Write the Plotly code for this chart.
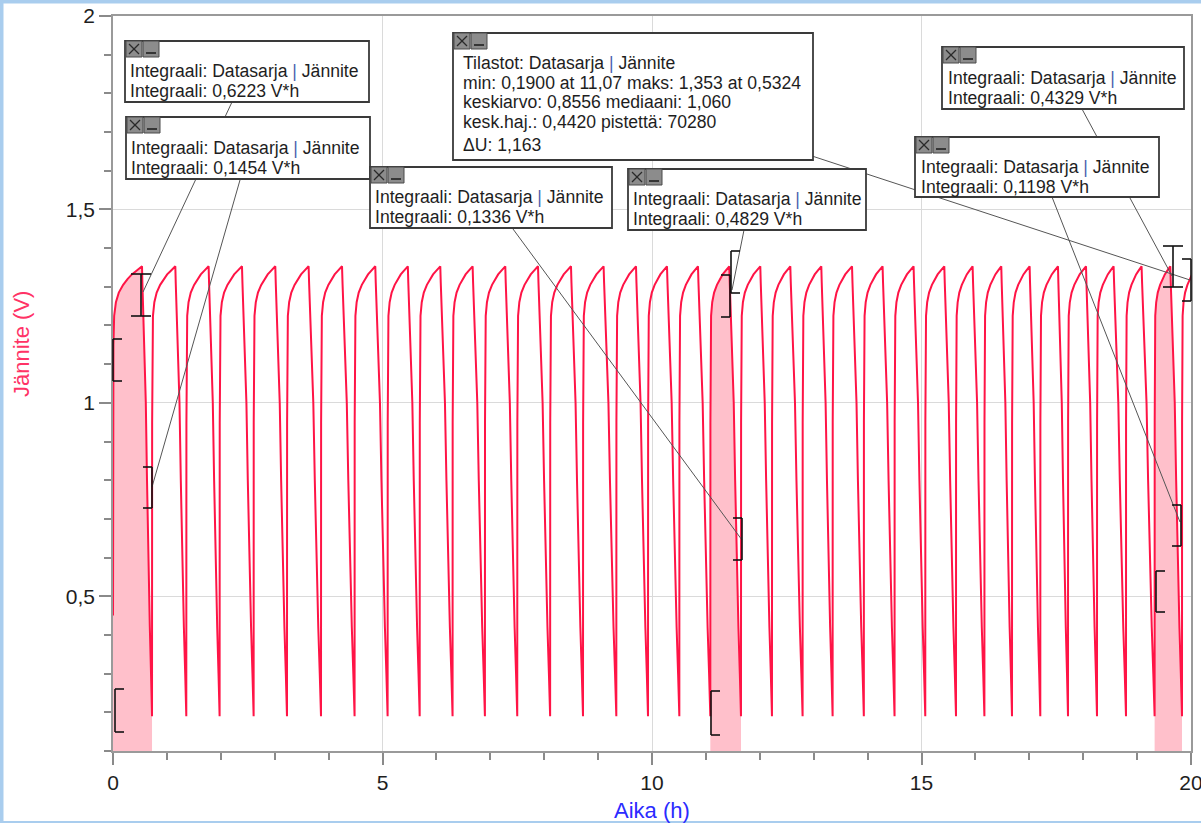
import plotly.graph_objects as go

# ---------------- data ----------------
peak_t = [0.538, 1.156, 1.774, 2.393, 3.011, 3.629, 4.249, 4.866, 5.47, 6.072,
          6.672, 7.278, 7.885, 8.497, 9.102, 9.703, 10.278, 10.853, 11.434, 12.009,
          12.566, 13.141, 13.711, 14.278, 14.853, 15.423, 15.948, 16.480, 17.006, 17.532,
          18.052, 18.564, 19.083, 19.616, 20.12]
trough_t = [0.724, 1.360, 1.978, 2.609, 3.228, 3.859, 4.482, 5.095, 5.69, 6.30,
            6.90, 7.50, 8.11, 8.72, 9.338, 9.926, 10.507, 11.082, 11.651, 12.226,
            12.794, 13.351, 13.93, 14.50, 15.07, 15.64, 16.167, 16.679, 17.204, 17.718,
            18.256, 18.794, 19.325, 19.833]
start_v = 0.45
# shape of one charging part (fraction of rise time -> voltage)
rise_frac = [0.0, 0.005, 0.015, 0.04, 0.10, 0.20, 0.35, 0.50, 0.65, 0.80, 0.92, 1.0]
rise_v = [0.19, 0.95, 1.15, 1.225, 1.26, 1.285, 1.305, 1.32, 1.332, 1.341, 1.348, 1.353]
# shape of one discharging part (fraction of fall time -> voltage)
fall_frac = [0.0, 0.04, 0.2, 0.38, 0.5, 0.62, 0.78, 0.9, 1.0]
fall_v = [1.353, 1.31, 1.17, 1.0, 0.80, 0.60, 0.42, 0.30, 0.19]

region_bounds = [(0.0, 0.724), (11.082, 11.651), (19.325, 19.833)]

x_ticks = [0, 5, 10, 15, 20]
x_ticktext = ["0", "5", "10", "15", "20"]
y_ticks = [0.5, 1.0, 1.5, 2.0]
y_ticktext = ["0,5", "1", "1,5", "2"]

box_texts = [
    ["Integraali: Datasarja | Jännite", "Integraali: 0,6223 V*h"],
    ["Integraali: Datasarja | Jännite", "Integraali: 0,1454 V*h"],
    ["Integraali: Datasarja | Jännite", "Integraali: 0,1336 V*h"],
    ["Tilastot: Datasarja | Jännite", "min: 0,1900 at 11,07 maks: 1,353 at 0,5324",
     "keskiarvo: 0,8556 mediaani: 1,060", "kesk.haj.: 0,4420 pistettä: 70280", "ΔU: 1,163"],
    ["Integraali: Datasarja | Jännite", "Integraali: 0,4829 V*h"],
    ["Integraali: Datasarja | Jännite", "Integraali: 0,4329 V*h"],
    ["Integraali: Datasarja | Jännite", "Integraali: 0,1198 V*h"],
]

# ---------------- build the curve ----------------
t, v = [], []
prev = 0.0
for i, pk in enumerate(peak_t):
    dur = pk - prev
    for j, (f, val) in enumerate(zip(rise_frac, rise_v)):
        if i > 0 and j == 0:
            continue
        t.append(prev + f * dur)
        v.append(start_v if (i == 0 and j == 0) else val)
    if i < len(trough_t):
        tr = trough_t[i]
        d = tr - pk
        for f, val in zip(fall_frac[1:], fall_v[1:]):
            t.append(pk + f * d)
            v.append(val)
        prev = tr

LINE = "rgb(255,20,70)"
FILL = "rgb(255,192,203)"

fig = go.Figure()
for a, b in region_bounds:
    xs = [tt for tt in t if a - 1e-9 <= tt <= b + 1e-9]
    ys = [vv for tt, vv in zip(t, v) if a - 1e-9 <= tt <= b + 1e-9]
    fig.add_trace(go.Scatter(x=xs, y=ys, mode="lines", fill="tozeroy",
                             fillcolor=FILL, line=dict(width=0, color=FILL),
                             hoverinfo="skip", showlegend=False))
fig.add_trace(go.Scatter(x=t, y=v, mode="lines", line=dict(color=LINE, width=2),
                         showlegend=False))

# ---------------- layout geometry (pixels) ----------------
W, H = 1201, 823
ML, MR, MT, MB = 113, 10, 16, 72
PW, PH = W - ML - MR, H - MT - MB


def px(xp):
    return (xp - ML) / PW


def py(yp):
    return (H - MB - yp) / PH


shapes = []
annotations = []

DARK = "#3a3a3a"
GRAYLINE = "#555555"


def seg(x0, y0, x1, y1, color="#111111", width=1.6):
    shapes.append(dict(type="line", xref="paper", yref="paper",
                       x0=px(x0), y0=py(y0), x1=px(x1), y1=py(y1),
                       line=dict(color=color, width=width), layer="above"))


# connector lines
connectors = [
    ((232, 102), (143, 292)),
    ((240, 180), (152, 487)),
    ((513, 229), (742, 540)),
    ((744, 230), (732, 290)),
    ((812, 156), (1190, 280)),
    ((1082, 109), (1172, 276)),
    ((1052, 197), (1180, 522)),
]
for (a, b) in connectors:
    seg(a[0], a[1], b[0], b[1], color=GRAYLINE, width=1)

# brackets
brackets = [
    ("[", 113, 339, 381), ("[", 115, 689, 732), ("I", 141, 274, 316), ("]", 152, 467, 508),
    ("[", 731, 251, 293), ("]", 730, 275, 317), ("[", 711, 691, 735), ("]", 742, 518, 560),
    ("I", 1173, 246, 287), ("]", 1191, 259, 301), ("]", 1181, 505, 546), ("[", 1156, 571, 612),
]
for kind, xb, y0, y1 in brackets:
    seg(xb, y0, xb, y1)
    L = 9
    if kind == "[":
        seg(xb, y0, xb + L, y0)
        seg(xb, y1, xb + L, y1)
    elif kind == "]":
        seg(xb - L, y0, xb, y0)
        seg(xb - L, y1, xb, y1)
    else:
        seg(xb - 10, y0, xb + 10, y0)
        seg(xb - 10, y1, xb + 10, y1)

# boxes: (left, top, right, bottom, text_x, first_line_y, line_gaps)
boxes = [
    (125, 41, 369, 102, 128, 71, [20]),
    (126, 117, 370, 179, 129, 148, [20]),
    (370, 167, 612, 228, 373, 197, [20]),
    (453, 33, 813, 160, 461, 63, [20, 19, 20, 23]),
    (628, 169, 866, 230, 631, 199, [20]),
    (942, 47, 1184, 109, 946, 78, [20]),
    (915, 137, 1159, 197, 919, 167, [20]),
]
FONT = "Liberation Sans, Arial, sans-serif"
for bi, (l, tp, r, btm, tx, ty, gaps) in enumerate(boxes):
    shapes.append(dict(type="rect", xref="paper", yref="paper",
                       x0=px(l), y0=py(btm), x1=px(r), y1=py(tp),
                       fillcolor="white", line=dict(color=DARK, width=1.8), layer="above"))
    # close icon
    shapes.append(dict(type="rect", xref="paper", yref="paper",
                       x0=px(l + 1), y0=py(tp + 16), x1=px(l + 17), y1=py(tp),
                       fillcolor="#8c8c8c", line=dict(color="#4a4a4a", width=1), layer="above"))
    seg(l + 4, tp + 3, l + 14, tp + 13, color="#2a2a2a", width=1.3)
    seg(l + 4, tp + 13, l + 14, tp + 3, color="#2a2a2a", width=1.3)
    # minimise icon
    shapes.append(dict(type="rect", xref="paper", yref="paper",
                       x0=px(l + 18), y0=py(tp + 16), x1=px(l + 34), y1=py(tp),
                       fillcolor="#8c8c8c", line=dict(color="#4a4a4a", width=1), layer="above"))
    seg(l + 21, tp + 12, l + 31, tp + 12, color="#1a1a1a", width=1.5)
    yy = ty
    for li, line in enumerate(box_texts[bi]):
        txt = line.replace(" | ", " <span style='color:#4a5fb0'>|</span> ")
        annotations.append(dict(xref="paper", yref="paper", x=px(tx), y=py(yy),
                                xanchor="left", yanchor="middle", showarrow=False,
                                text=txt, align="left",
                                font=dict(family=FONT, size=17.6, color="#1e1e1e")))
        if li < len(gaps):
            yy += gaps[li]

# light blue window frame
FRAME = "#a9cdee"
for (x0, y0, x1, y1) in [(0, 0, W, 3.5), (0, 0, 3.5, H), (0, 821, W, H)]:
    shapes.append(dict(type="rect", xref="paper", yref="paper",
                       x0=px(x0), y0=py(y1), x1=px(x1), y1=py(y0),
                       fillcolor=FRAME, line=dict(width=0), layer="above"))

# axis titles
annotations.append(dict(xref="paper", yref="paper", x=px(652), y=py(810),
                        xanchor="center", yanchor="middle", showarrow=False,
                        text="Aika (h)", font=dict(family=FONT, size=22, color="#2b2bff")))
annotations.append(dict(xref="paper", yref="paper", x=px(21), y=py(344),
                        xanchor="center", yanchor="middle", showarrow=False, textangle=-90,
                        text="Jännite (V)", font=dict(family=FONT, size=22, color="#ff3366")))

axis_common = dict(showline=True, linecolor="#9a9a9a", linewidth=1.5, mirror=True,
                   showgrid=True, gridcolor="#dadada", gridwidth=1, zeroline=False,
                   automargin=False, ticklabeloverflow="allow",
                   ticks="outside", tickcolor="#8a8a8a", tickwidth=1.5, ticklen=12,
                   tickfont=dict(family=FONT, size=21, color="#1e1e1e"))

fig.update_layout(
    width=W, height=H,
    margin=dict(l=ML, r=MR, t=MT, b=MB, pad=0, autoexpand=False),
    paper_bgcolor="white", plot_bgcolor="white",
    showlegend=False,
    xaxis=dict(range=[0, 20], tickmode="array", tickvals=x_ticks, ticktext=x_ticktext,
               minor=dict(tickmode="linear", tick0=0, dtick=1, ticks="outside", ticklen=7,
                          tickcolor="#8a8a8a", tickwidth=1.5, showgrid=False),
               **axis_common),
    yaxis=dict(range=[0.1, 2], tickmode="array", tickvals=y_ticks, ticktext=y_ticktext,
               minor=dict(tickmode="linear", tick0=0, dtick=0.1, ticks="outside", ticklen=7,
                          tickcolor="#8a8a8a", tickwidth=1.5, showgrid=False),
               **axis_common),
    shapes=shapes,
    annotations=annotations,
)

fig.write_html("out.html")
